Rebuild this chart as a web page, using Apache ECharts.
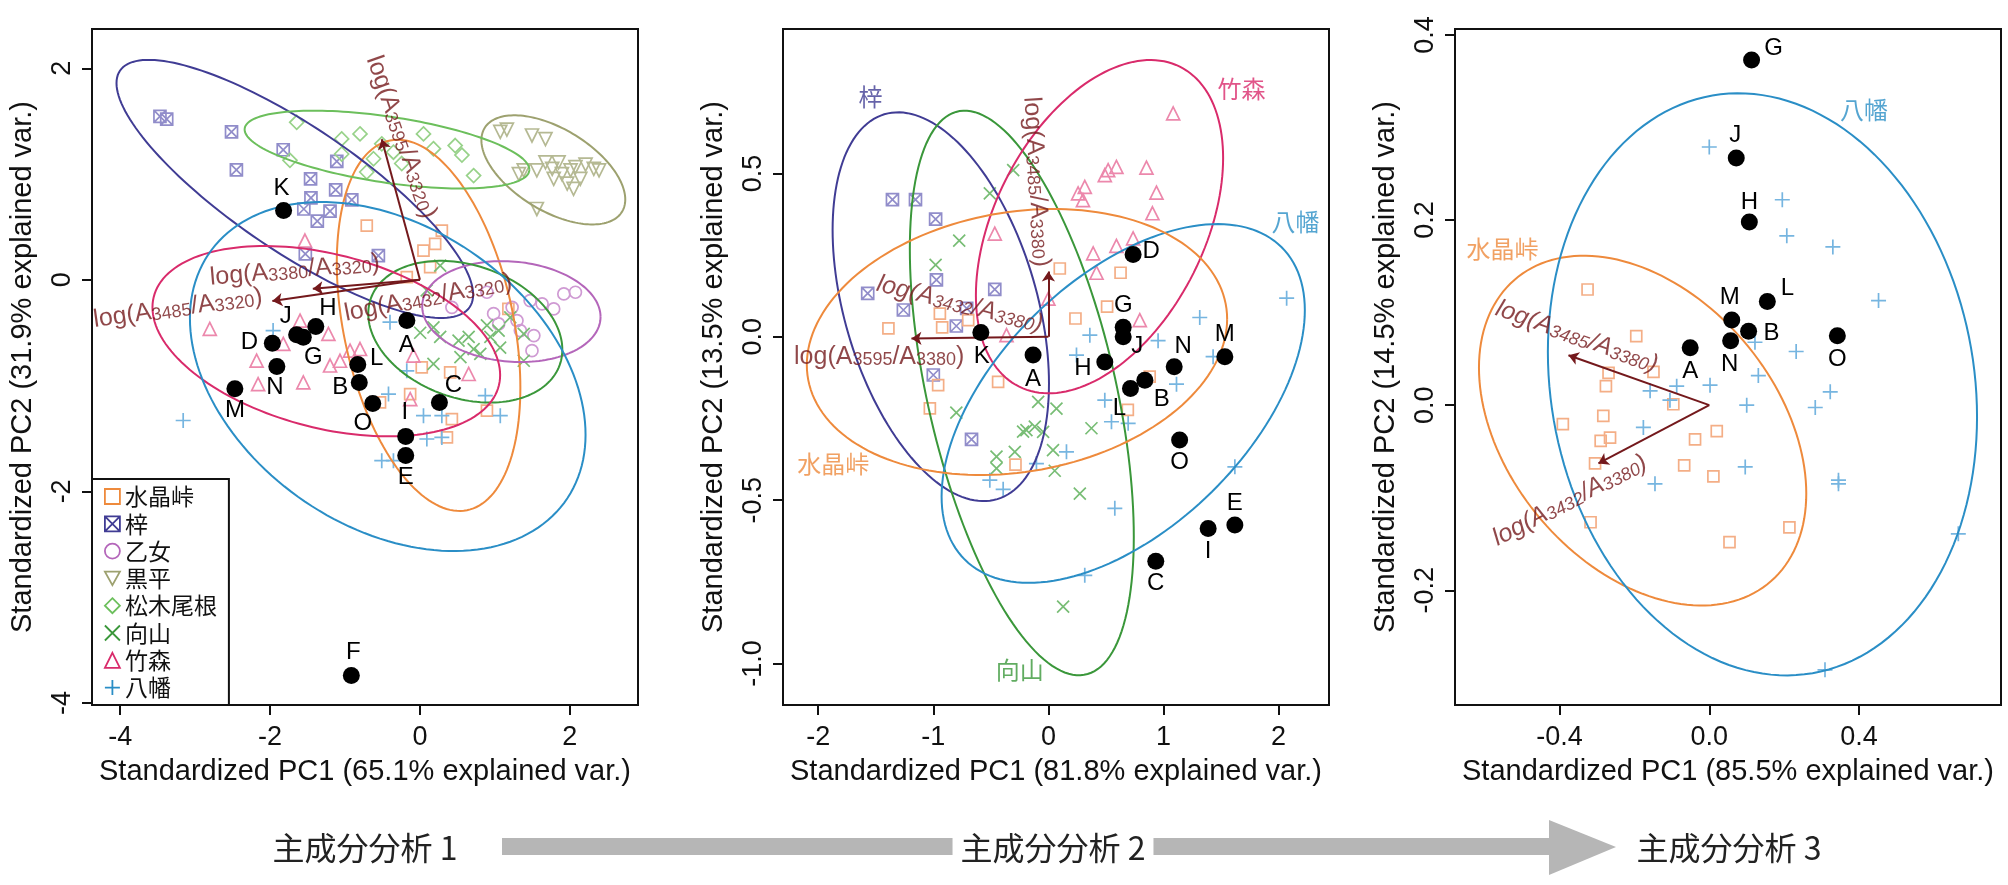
<!DOCTYPE html>
<html>
<head>
<meta charset="utf-8">
<script src="https://cdn.jsdelivr.net/npm/echarts@6/dist/echarts.min.js"></script>
<style>
  html, body { margin: 0; padding: 0; background: #fff; }
  #main { width: 2008px; height: 885px; }
</style>
</head>
<body>
<div id="main"></div>
<script>
// ---- groups ----
const groupNames = ['水晶峠', '梓', '乙女', '黒平', '松木尾根', '向山', '竹森', '八幡'];

// ---- panel 1 (PC analysis 1) ----
const p1Suisho = [[-0.71,0.513],[0.292,0.466],[0.203,0.34],[0.047,0.277],[0.136,0.12],[-0.176,0.025],[1.18,-0.275],[0.024,-0.827],[0.403,-0.874],[0.426,-1.316],[0.894,-1.237],[0.36,-1.49],[-0.533,-1.158],[-0.131,-1.08]];
const p1Azusa = [[-3.47,1.545],[-3.38,1.52],[-2.515,1.40],[-2.45,1.04],[-1.825,1.23],[-1.11,1.12],[-1.46,0.955],[-1.125,0.85],[-1.455,0.775],[-0.91,0.756],[-1.55,0.67],[-1.20,0.65],[-1.37,0.555],[-1.53,0.245],[-0.555,0.23]];
const p1Otome = [[0.426,-0.26],[0.894,-0.117],[0.983,-0.32],[1.05,-0.417],[1.23,-0.26],[1.295,-0.385],[1.34,-0.48],[1.47,-0.196],[1.52,-0.527],[1.495,-0.67],[1.63,-0.227],[1.785,-0.275],[1.92,-0.133],[2.075,-0.117]];
const p1Kurodaira = [[1.072,1.40],[1.16,1.42],[1.495,1.365],[1.675,1.33],[1.385,1.035],[1.56,1.035],[1.675,1.11],[1.765,1.05],[1.85,1.11],[1.895,1.00],[2.01,1.035],[2.075,1.065],[2.21,1.09],[2.32,1.05],[2.39,1.035],[1.965,0.91],[2.05,0.86],[2.14,0.955],[1.785,0.955],[1.56,0.67],[1.32,1.00]];
const p1Matsuki = [[-1.645,1.49],[-1.045,1.333],[-0.80,1.38],[-0.51,1.286],[-0.354,1.207],[-1.045,1.19],[0.047,1.38],[0.18,1.24],[0.47,1.27],[0.56,1.18],[0.716,0.986],[-1.735,1.13],[-0.62,1.145],[-0.243,1.10],[-0.71,1.02]];
const p1Mukai = [[0.27,0.135],[0.09,-0.10],[0.18,-0.45],[0.003,-0.50],[0.27,-0.54],[0.515,-0.575],[0.65,-0.54],[0.716,-0.655],[0.894,-0.43],[0.94,-0.54],[1.05,-0.48],[1.07,-0.64],[1.385,-0.51],[1.385,-0.765],[0.18,-0.795],[0.805,-0.70],[0.54,-0.73],[1.205,-0.355]];
const p1Takemori = [[-1.535,0.372],[-2.805,-0.464],[-1.60,-0.385],[-1.222,-0.51],[-1.824,-0.606],[-2.18,-0.764],[-2.16,-0.985],[-1.557,-0.97],[-1.20,-0.81],[-1.067,-0.765],[-0.933,-0.67],[-0.80,-0.654],[-0.087,-0.717],[0.65,-0.89],[-0.13,-1.127]];
const p1Yawata = [[-3.16,-1.33],[-1.96,-0.48],[-0.40,-0.40],[-0.176,-0.86],[-0.42,-1.08],[0.047,-1.284],[0.292,-1.284],[0.872,-1.095],[1.072,-1.284],[0.092,-1.505],[0.292,-1.49],[-0.51,-1.71],[-0.354,-1.71]];
// ellipse: [centre x, centre y, half width, half height, y offset of rightmost point]
const p1Ellipses = [
  [0.115, -0.43, 1.225, 1.755, -0.59],
  [-1.67, 0.86, 2.38, 1.22, -1.0],
  [1.22, -0.30, 1.19, 0.477, -0.05],
  [1.78, 1.04, 0.96, 0.516, -0.28],
  [-0.44, 1.232, 1.90, 0.368, -0.19],
  [0.605, -0.49, 1.295, 0.67, -0.17],
  [-1.25, -0.58, 2.32, 0.90, -0.32],
  [-0.43, -0.914, 2.64, 1.65, -0.55]
];
const p1SampleNames = ['A','B','C','D','E','F','G','H','I','J','K','L','M','N','O'];
const p1SampleX = [-0.175,-0.81,0.26,-1.97,-0.19,-0.916,-1.557,-1.39,-0.19,-1.646,-1.82,-0.83,-2.47,-1.91,-0.63];
const p1SampleY = [-0.385,-0.97,-1.16,-0.60,-1.66,-3.74,-0.543,-0.44,-1.48,-0.52,0.656,-0.80,-1.03,-0.82,-1.17];
const p1ArrowTips = [[-0.51,1.33],[-1.43,-0.085],[-1.97,-0.20]];
const p1VarNames = ['A3595/A3320','A3380/A3320','A3485/A3320','A3432/A3320'];
const p1VarPos = [[-0.25,1.35],[-1.67,0.09],[-3.23,-0.27],[0.11,-0.17]];

// ---- panel 2 ----
const p2Azusa = [[-1.355,0.42],[-1.155,0.42],[-0.98,0.36],[-0.71,0.087],[-1.57,0.133],[-0.973,0.174],[-0.466,0.145],[-0.80,0.033],[-1.0,-0.117],[-1.26,0.082],[-0.668,-0.314]];
const p2Mukai = [[-0.306,0.51],[-0.509,0.439],[-0.775,0.294],[-0.98,0.22],[-0.089,-0.199],[0.07,-0.22],[-0.80,-0.232],[-0.191,-0.286],[-0.046,-0.291],[-0.292,-0.352],[-0.451,-0.367],[0.04,-0.347],[-0.451,-0.403],[0.055,-0.41],[0.374,-0.28],[0.273,-0.48],[0.128,-0.826],[-0.22,-0.29],[-0.118,-0.275]];
const p2Takemori = [[1.084,0.684],[0.519,0.51],[0.591,0.52],[0.49,0.495],[0.852,0.518],[0.939,0.441],[0.258,0.439],[0.316,0.459],[0.30,0.418],[0.904,0.378],[-0.466,0.316],[0.389,0.255],[0.591,0.278],[0.736,0.301],[0.418,0.196],[0.794,0.051],[0.0,0.117],[-0.364,0.005]];
const p2Yawata = [[1.315,0.059],[0.953,-0.012],[0.36,0.005],[1.113,-0.145],[0.49,-0.194],[0.244,-0.056],[1.431,-0.061],[2.07,0.118],[0.548,-0.26],[0.693,-0.265],[0.157,-0.352],[-0.104,-0.388],[-0.509,-0.439],[-0.393,-0.467],[0.577,-0.525],[0.316,-0.73],[1.62,-0.398]];
const p2Suisho = [[0.099,0.209],[0.627,0.196],[0.51,0.092],[0.235,0.056],[-1.39,0.026],[-0.923,0.029],[-0.943,0.071],[-0.437,-0.138],[-0.958,-0.148],[-1.03,-0.219],[-0.697,0.051],[-0.286,-0.391],[0.88,-0.122],[0.69,-0.224]];
const p2Ellipses = [
  [-0.935, 0.092, 0.94, 0.595, -0.235],
  [-0.231, -0.172, 0.973, 0.864, -0.44],
  [0.444, 0.337, 1.074, 0.51, 0.21],
  [0.65, -0.204, 1.578, 0.549, 0.285],
  [-0.273, -0.016, 1.826, 0.407, 0.07]
];
const p2GroupIdx = [1, 5, 6, 7, 0];
const p2GroupLabelPos = [[-1.545,0.735],[-0.248,-1.02],[1.677,0.76],[2.148,0.352],[-1.87,-0.388]];
const p2SampleNames = ['A','B','C','D','E','G','H','I','J','K','L','M','N','O'];
const p2SampleX = [-0.133,0.838,0.933,0.736,1.62,0.65,0.49,1.388,0.65,-0.587,0.713,1.533,1.093,1.14];
const p2SampleY = [-0.056,-0.133,-0.687,0.252,-0.576,0.029,-0.077,-0.587,0.0,0.013,-0.158,-0.061,-0.092,-0.316];
const p2ArrowTips = [[0,0.2],[-1.19,-0.005]];
const p2VarNames = ['A3485/A3380','A3595/A3380','A3432/A3380'];
const p2VarPos = [[-0.104,0.474],[-1.47,-0.061],[-0.77,0.10]];

// ---- panel 3 ----
const p3Suisho = [[-0.325,0.125],[-0.195,0.0746],[-0.269,0.035],[-0.149,0.036],[-0.276,0.0205],[-0.391,-0.0205],[-0.283,-0.0115],[-0.265,-0.035],[-0.29,-0.0386],[-0.305,-0.063],[-0.096,0.001],[-0.038,-0.037],[0.02,-0.028],[-0.067,-0.065],[0.011,-0.077],[-0.317,-0.1265],[0.214,-0.132],[0.054,-0.148]];
const p3Yawata = [[0.0,0.279],[0.195,0.222],[0.207,0.183],[0.33,0.171],[0.452,0.113],[0.122,0.068],[0.232,0.058],[0.131,0.032],[-0.158,0.0155],[-0.087,0.0205],[0.002,0.0216],[-0.105,0.0054],[0.323,0.0144],[0.283,-0.0025],[0.1,0.0],[-0.176,-0.024],[0.096,-0.0667],[-0.145,-0.085],[0.345,-0.081],[0.345,-0.085],[0.665,-0.139],[0.309,-0.286]];
const p3Ellipses = [
  [-0.178, -0.0275, 0.437, 0.189, -0.068],
  [0.142, 0.0225, 0.573, 0.3145, -0.035]
];
const p3GroupIdx = [0, 7];
const p3GroupLabelPos = [[-0.552,0.169],[0.413,0.319]];
const p3SampleNames = ['A','B','G','H','J','L','M','N','O'];
const p3SampleX = [-0.051,0.105,0.113,0.107,0.072,0.155,0.06,0.057,0.342];
const p3SampleY = [0.062,0.08,0.373,0.198,0.267,0.112,0.092,0.0695,0.075];
const p3ArrowTips = [[-0.376,0.054],[-0.296,-0.063]];
const p3VarNames = ['A3485/A3380','A3432/A3380'];
const p3VarPos = [[-0.354,0.074],[-0.372,-0.103]];

// ---- styles ----
const FONT = 'Liberation Sans';
const CJK = 'Noto Sans CJK JP';
const MAROON = '#74191C';
const lineColors = ['#EE8A3C', '#403C94', '#B466BA', '#9DA16F', '#6CBF5C', '#3A973A', '#D92B6B', '#2A8EC6'];
const pointColors = ['#F4AE86', '#918DCA', '#CF9AD3', '#B5B993', '#98D28A', '#78BD75', '#EC88AC', '#76B5E0'];
const groupSymbols = ['rect', 'path://M0,0H10V10H0Z M0,0L10,10 M10,0L0,10', 'circle', 'path://M0,0L10,0L5,9Z',
  'diamond', 'path://M0,0L10,10 M10,0L0,10', 'triangle', 'path://M5,0V10 M0,5H10'];
const groupSymbolSizes = [11, 12, 12, 13, 14, 12, 13, 15];
const p1LabelOffsets = [[0,25],[-19,5],[14,-17],[-23,-1],[0,22],[2,-23],[10,20],[12,-18],[-1,-24],[-11,-18],[-2,-22],[19,-6],[0,22],[-2,21],[-10,20]];
const p2LabelOffsets = [[0,24],[17,19],[0,22],[18,-3],[0,-22],[0,-22],[-22,6],[0,23],[14,10],[1,24],[-11,20],[0,-22],[9,-20],[0,22]];
const p3LabelOffsets = [[0,24],[23,2],[22,-12],[0,-20],[-1,-23],[20,-13],[-2,-23],[-1,24],[0,24]];
const p1VarRot = [-70.7, 5, 8, 11];
const p2VarRot = [-86.5, 0, -13.8];
const p3VarRot = [-19.8, 27.5];

const chart = echarts.init(document.getElementById('main'));

function xAxis(i, min, max, ticks, name, dec) {
  return {
    type: 'value', gridIndex: i, min: min, max: max,
    name: name, nameLocation: 'middle', nameGap: 52,
    nameTextStyle: { fontSize: 29, color: '#111', fontFamily: FONT },
    axisLine: { show: false, onZero: false },
    axisTick: { show: true, inside: false, length: 10, customValues: ticks, lineStyle: { color: '#111', width: 2 } },
    axisLabel: { customValues: ticks, margin: 19, fontSize: 27, color: '#111', fontFamily: FONT,
      formatter: v => dec ? v.toFixed(dec) : String(v) },
    splitLine: { show: false }
  };
}
function yAxis(i, min, max, ticks, name, dec) {
  return {
    type: 'value', gridIndex: i, min: min, max: max,
    name: name, nameLocation: 'middle', nameGap: 55,
    nameTextStyle: { fontSize: 29, color: '#111', fontFamily: FONT },
    axisLine: { show: false, onZero: false },
    axisTick: { show: true, inside: false, length: 10, customValues: ticks, lineStyle: { color: '#111', width: 2 } },
    axisLabel: { customValues: ticks, margin: 16, rotate: 90, fontSize: 27, color: '#111', fontFamily: FONT,
      formatter: v => dec ? v.toFixed(dec) : String(v) },
    splitLine: { show: false }
  };
}

const series = [];

function addPoints(panel, gi, pts) {
  series.push({
    type: 'scatter', name: groupNames[gi], xAxisIndex: panel, yAxisIndex: panel,
    data: pts, symbol: groupSymbols[gi], symbolSize: groupSymbolSizes[gi], silent: true, z: 2,
    itemStyle: { color: 'rgba(0,0,0,0)', borderColor: pointColors[gi], borderWidth: 1.7, opacity: 1 }
  });
}

function addEllipse(panel, gi, e) {
  series.push({
    type: 'custom', name: groupNames[gi], xAxisIndex: panel, yAxisIndex: panel,
    data: [e], encode: { x: 0, y: 1 }, silent: true, z: 3,
    renderItem: function (params, api) {
      const cx = e[0], cy = e[1], xh = e[2], yh = e[3], k = e[4];
      const r = Math.sqrt(yh * yh - k * k);
      const pts = [];
      for (let i = 0; i <= 160; i++) {
        const t = i / 160 * Math.PI * 2;
        pts.push(api.coord([cx + xh * Math.cos(t), cy + k * Math.cos(t) + r * Math.sin(t)]));
      }
      return { type: 'polyline', shape: { points: pts }, style: { stroke: lineColors[gi], lineWidth: 2, fill: null } };
    }
  });
}

function addSamples(panel, names, xs, ys, offsets) {
  series.push({
    type: 'scatter', name: 'samples' + panel, xAxisIndex: panel, yAxisIndex: panel,
    symbol: 'circle', symbolSize: 17, silent: true, z: 5,
    itemStyle: { color: '#000', opacity: 1 },
    label: { show: true, position: 'inside', formatter: '{b}', fontSize: 24, color: '#000', fontFamily: FONT },
    data: names.map((n, i) => ({ name: n, value: [xs[i], ys[i]], label: { offset: offsets[i] } }))
  });
}

function addArrows(panel, tips) {
  series.push({
    type: 'lines', coordinateSystem: 'cartesian2d', xAxisIndex: panel, yAxisIndex: panel,
    symbol: ['none', 'arrow'], symbolSize: 10, silent: true, z: 4,
    lineStyle: { color: MAROON, width: 2, opacity: 1 },
    data: tips.map(t => ({ coords: [[0, 0], t] }))
  });
}

function ratioText(r) {
  const parts = r.split('/');
  return '{n|log(A}{s|' + parts[0].slice(1) + '}{n|/A}{s|' + parts[1].slice(1) + '}{n|)}';
}

function addVarLabels(panel, names, pos, rots, italicIdx) {
  series.push({
    type: 'scatter', name: 'vars' + panel, xAxisIndex: panel, yAxisIndex: panel,
    symbolSize: 0, silent: true, z: 6,
    data: names.map((n, i) => ({
      value: pos[i],
      label: {
        show: true, position: 'inside', rotate: rots[i], formatter: ratioText(n),
        rich: {
          n: { fontSize: 25, color: MAROON, fontFamily: FONT, verticalAlign: 'bottom', fontStyle: italicIdx.includes(i) ? 'italic' : 'normal' },
          s: { fontSize: 18, color: MAROON, fontFamily: FONT, verticalAlign: 'bottom', fontStyle: italicIdx.includes(i) ? 'italic' : 'normal' }
        }
      }
    }))
  });
}

function addGroupLabels(panel, idx, pos) {
  series.push({
    type: 'scatter', name: 'glabels' + panel, xAxisIndex: panel, yAxisIndex: panel,
    symbolSize: 0, silent: true, z: 6,
    data: idx.map((gi, i) => ({
      value: pos[i], name: groupNames[gi],
      label: { show: true, position: 'inside', formatter: '{b}', fontSize: 24, fontFamily: CJK, color: lineColors[gi] }
    }))
  });
}

// panel 1
const p1Sets = [p1Suisho, p1Azusa, p1Otome, p1Kurodaira, p1Matsuki, p1Mukai, p1Takemori, p1Yawata];
p1Sets.forEach((pts, gi) => addPoints(0, gi, pts));
p1Ellipses.forEach((e, gi) => addEllipse(0, gi, e));
addArrows(0, p1ArrowTips);
addVarLabels(0, p1VarNames, p1VarPos, p1VarRot, []);
addSamples(0, p1SampleNames, p1SampleX, p1SampleY, p1LabelOffsets);

// panel 2
const p2Sets = [p2Azusa, p2Mukai, p2Takemori, p2Yawata, p2Suisho];
p2Sets.forEach((pts, i) => addPoints(1, p2GroupIdx[i], pts));
p2Ellipses.forEach((e, i) => addEllipse(1, p2GroupIdx[i], e));
addGroupLabels(1, p2GroupIdx, p2GroupLabelPos);
addArrows(1, p2ArrowTips);
addVarLabels(1, p2VarNames, p2VarPos, p2VarRot, [2]);
addSamples(1, p2SampleNames, p2SampleX, p2SampleY, p2LabelOffsets);

// panel 3
const p3Sets = [p3Suisho, p3Yawata];
p3Sets.forEach((pts, i) => addPoints(2, p3GroupIdx[i], pts));
p3Ellipses.forEach((e, i) => addEllipse(2, p3GroupIdx[i], e));
addGroupLabels(2, p3GroupIdx, p3GroupLabelPos);
addArrows(2, p3ArrowTips);
addVarLabels(2, p3VarNames, p3VarPos, p3VarRot, [0, 1]);
addSamples(2, p3SampleNames, p3SampleX, p3SampleY, p3LabelOffsets);

const gridBox = { show: true, borderColor: '#111', borderWidth: 2, backgroundColor: 'transparent', containLabel: false };

const stepStyle = { fontSize: 32, fontFamily: CJK, fill: '#222', align: 'center', verticalAlign: 'middle', textAlign: 'center', textVerticalAlign: 'middle' };

chart.setOption({
  animation: false,
  backgroundColor: '#fff',
  grid: [
    Object.assign({ left: 92, top: 29, width: 546, height: 676 }, gridBox),
    Object.assign({ left: 783, top: 29, width: 546, height: 676 }, gridBox),
    Object.assign({ left: 1455, top: 29, width: 546, height: 676 }, gridBox)
  ],
  xAxis: [
    xAxis(0, -4.377, 2.91, [-4, -2, 0, 2], 'Standardized PC1 (65.1% explained var.)', 0),
    xAxis(1, -2.306, 2.438, [-2, -1, 0, 1, 2], 'Standardized PC1 (81.8% explained var.)', 0),
    xAxis(2, -0.679, 0.779, [-0.4, 0, 0.4], 'Standardized PC1 (85.5% explained var.)', 1)
  ],
  yAxis: [
    yAxis(0, -4.02, 2.372, [-4, -2, 0, 2], 'Standardized PC2 (31.9% explained var.)', 0),
    yAxis(1, -1.127, 0.942, [-1, -0.5, 0, 0.5], 'Standardized PC2 (13.5% explained var.)', 1),
    yAxis(2, -0.324, 0.4065, [-0.2, 0, 0.2, 0.4], 'Standardized PC2 (14.5% explained var.)', 1)
  ],
  legend: {
    orient: 'vertical', left: 92, top: 479, selectedMode: false,
    itemWidth: 15, itemHeight: 15, itemGap: 4.3,
    padding: [6, 12, 6, 12], borderColor: '#111', borderWidth: 2, backgroundColor: '#fff',
    textStyle: { fontSize: 23, lineHeight: 23, fontFamily: CJK, color: '#111' },
    data: groupNames.map((n, i) => ({
      name: n,
      itemStyle: { color: 'rgba(0,0,0,0)', borderColor: lineColors[i], borderWidth: 1.8, opacity: 1 }
    }))
  },
  graphic: [
    { type: 'rect', shape: { x: 502, y: 838, width: 1048, height: 17 }, style: { fill: '#B6B6B6' }, z: 1 },
    { type: 'polygon', shape: { points: [[1549, 820], [1616, 847], [1549, 875]] }, style: { fill: '#B6B6B6' }, z: 1 },
    { type: 'text', x: 365, y: 848, z: 2, style: Object.assign({ text: '主成分分析 1' }, stepStyle) },
    { type: 'text', x: 1053, y: 848, z: 2, style: Object.assign({ text: '主成分分析 2', backgroundColor: '#fff', padding: [4, 8] }, stepStyle) },
    { type: 'text', x: 1729, y: 848, z: 2, style: Object.assign({ text: '主成分分析 3' }, stepStyle) }
  ],
  series: series
});
</script>
</body>
</html>
